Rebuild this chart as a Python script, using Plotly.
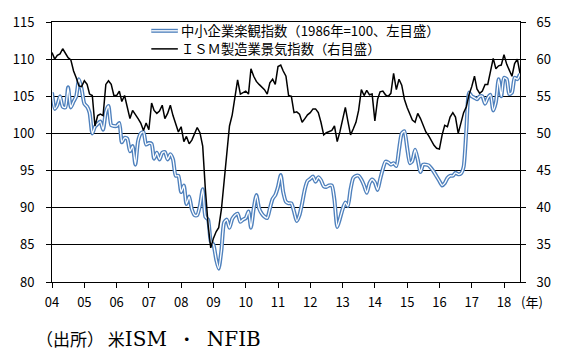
import pandas as pd
import plotly.graph_objects as go

# ---- data (monthly, Jan 2004 - Jul 2018) ----
months = pd.date_range("2004-01-01", periods=175, freq="MS")

nfib = [
    105.5, 103.3, 103.8, 105.0, 103.6, 103.5, 106.2, 103.5, 104.3, 105.0, 107.3, 106.0,  # 2004
    104.0, 103.6, 102.8, 100.0, 100.9, 101.3, 101.6, 100.5, 102.9, 103.7, 101.1, 101.0,  # 2005
    101.0, 101.4, 98.8, 99.4, 99.3, 97.6, 98.3, 95.8, 99.0, 100.0, 100.2, 98.5,          # 2006
    98.7, 98.6, 96.6, 97.4, 96.5, 97.4, 97.5, 96.5, 97.2, 96.5, 94.3, 94.3,              # 2007
    92.1, 93.0, 90.5, 91.5, 89.8, 89.0, 89.0, 90.3, 92.5, 88.8, 88.4, 85.5,              # 2008
    85.0, 83.0, 81.8, 84.3, 88.0, 88.4, 87.3, 88.5, 89.0, 89.2, 88.1, 88.4,              # 2009
    88.6, 89.5, 87.3, 89.9, 91.7, 89.9, 89.2, 88.8, 88.6, 89.9, 91.2, 91.7,              # 2010
    92.8, 94.4, 92.1, 90.8, 90.6, 90.6, 89.5, 88.2, 89.0, 90.6, 92.5, 93.6,              # 2011
    93.9, 94.2, 93.5, 94.1, 93.7, 92.9, 92.8, 93.0, 93.0, 91.0, 87.4, 88.5,              # 2012
    89.8, 90.7, 90.2, 92.5, 94.0, 94.3, 94.3, 93.8, 93.0, 92.0, 93.3, 93.8,              # 2013
    93.4, 92.4, 93.8, 95.2, 96.2, 96.1, 95.8, 96.0, 95.6, 97.8, 100.0, 100.3,            # 2014
    98.1, 96.0, 96.3, 97.8, 96.5, 94.8, 95.8, 95.8, 95.7, 95.3, 94.8, 94.2,              # 2015
    93.6, 93.0, 93.3, 94.0, 94.3, 94.3, 94.7, 94.5, 94.6, 95.5, 100.5, 105.5,            # 2016
    105.0, 104.8, 104.6, 105.0, 105.0, 104.0, 104.8, 105.2, 103.1, 104.2, 107.3, 105.0,  # 2017
    107.5, 107.3, 105.3, 105.5, 107.5, 107.3, 108.0,                                     # 2018
]

ism = [
    60.9, 60.0, 60.5, 60.7, 61.4, 60.8, 60.2, 59.9, 58.4, 57.5, 56.4, 56.3,  # 2004
    57.1, 56.6, 55.3, 55.1, 51.0, 52.4, 52.6, 52.4, 56.6, 57.1, 56.6, 55.1,  # 2005
    55.1, 55.7, 54.3, 55.1, 53.7, 52.0, 53.1, 52.6, 52.0, 51.4, 50.4, 51.4,  # 2006
    50.5, 54.1, 53.1, 52.7, 53.0, 53.8, 52.0, 52.7, 53.8, 52.4, 51.3, 50.2,  # 2007
    50.9, 48.9, 49.6, 48.6, 49.1, 50.0, 50.8, 50.1, 48.3, 42.5, 37.7, 34.6,  # 2008
    35.9, 36.8, 37.3, 39.8, 43.5, 48.0, 51.0, 52.5, 54.7, 57.2, 55.3, 55.5,  # 2009
    55.7, 55.3, 58.7, 57.7, 57.0, 56.6, 56.2, 55.9, 55.3, 56.8, 57.3, 56.6,  # 2010
    59.0, 59.2, 58.4, 57.7, 55.1, 55.0, 52.8, 52.9, 52.6, 51.5, 52.0, 52.5,  # 2011
    52.8, 53.3, 53.3, 52.8, 51.5, 49.8, 50.1, 50.2, 50.4, 51.0, 48.9, 50.2,  # 2012
    51.7, 53.5, 51.7, 49.8, 50.6, 51.5, 53.1, 55.9, 55.1, 55.8, 55.2, 55.3,  # 2013
    51.7, 54.6, 55.6, 55.7, 55.2, 55.0, 55.4, 58.1, 55.9, 57.3, 56.5, 54.6,  # 2014
    53.5, 52.6, 51.8, 51.5, 52.7, 52.0, 51.1, 50.2, 49.7, 49.1, 48.4, 48.0,  # 2015
    47.9, 49.8, 51.1, 50.9, 52.2, 52.8, 52.2, 50.0, 51.5, 52.8, 53.6, 55.2,  # 2016
    56.3, 57.7, 56.0, 55.4, 55.7, 56.6, 56.6, 58.4, 60.1, 58.7, 59.1, 59.2,  # 2017
    60.6, 59.3, 58.6, 57.7, 59.4, 60.0, 58.1,                                # 2018
]

year_ticks = pd.date_range("2004-01-01", "2018-01-01", freq="YS")
year_labels = [f"{y % 100:02d}" for y in range(2004, 2019)]

name_nfib = "中小企業楽観指数（1986年=100、左目盛）"
name_ism = "ＩＳＭ製造業景気指数（右目盛）"

BLUE = "#4f81bd"
SANS = "Noto Sans CJK JP"

fig = go.Figure()
# double (compound) blue line: blue outline + white core
fig.add_trace(go.Scatter(x=months, y=nfib, mode="lines", name=name_nfib,
                         line=dict(color=BLUE, width=4.0, shape="spline", smoothing=0.6),
                         showlegend=False, yaxis="y"))
fig.add_trace(go.Scatter(x=months, y=nfib, mode="lines",
                         line=dict(color="white", width=1.3, shape="spline", smoothing=0.6),
                         showlegend=False, hoverinfo="skip", yaxis="y"))
fig.add_trace(go.Scatter(x=months, y=ism, mode="lines", name=name_ism,
                         line=dict(color="black", width=1.5),
                         showlegend=False, yaxis="y2"))

# ---- legend (custom, white box) ----
def px_x(px):
    return (px - 52) / 476.0

def px_y(py):
    return (282 - py) / 266.0

shapes = [
    dict(type="rect", xref="paper", yref="paper", x0=px_x(116), x1=px_x(477),
         y0=px_y(57), y1=px_y(17.5), fillcolor="white", line=dict(width=0), layer="between"),
    dict(type="line", xref="paper", yref="paper", x0=px_x(153), x1=px_x(180),
         y0=px_y(25), y1=px_y(25), line=dict(color=BLUE, width=4.0)),
    dict(type="line", xref="paper", yref="paper", x0=px_x(153), x1=px_x(180),
         y0=px_y(25), y1=px_y(25), line=dict(color="white", width=1.3)),
    dict(type="line", xref="paper", yref="paper", x0=px_x(153), x1=px_x(180),
         y0=px_y(43.5), y1=px_y(43.5), line=dict(color="black", width=1.5)),
]

LAT = "font-family:DejaVu Serif;font-size:20px"
source_text = ("（出所）&nbsp;米<span style='" + LAT + "'>ISM</span>"
               "&nbsp;&nbsp;&nbsp;・&nbsp;&nbsp;&nbsp;<span style='" + LAT + "'>NFIB</span>")

annotations = [
    dict(text=name_nfib, xref="paper", yref="paper", x=px_x(181), y=px_y(25),
         xanchor="left", yanchor="middle", showarrow=False,
         font=dict(family=SANS, size=13.3, color="black")),
    dict(text=name_ism, xref="paper", yref="paper", x=px_x(181), y=px_y(43.5),
         xanchor="left", yanchor="middle", showarrow=False,
         font=dict(family=SANS, size=13.3, color="black")),
    dict(text="(年)", xref="paper", yref="paper", x=px_x(527), y=px_y(302),
         xanchor="left", yanchor="middle", showarrow=False,
         font=dict(family=SANS, size=13, color="black")),
    dict(text=source_text, xref="paper", yref="paper", x=px_x(34), y=px_y(340),
         xanchor="left", yanchor="middle", showarrow=False,
         font=dict(family=SANS, size=17, color="black")),
]

fig.update_layout(
    width=563, height=351,
    margin=dict(l=52, r=35, t=16, b=69, pad=0),
    paper_bgcolor="white", plot_bgcolor="white",
    font=dict(family=SANS, size=13, color="black"),
    shapes=shapes, annotations=annotations,
    xaxis=dict(type="date", range=[months[0], months[-1]],
               tickvals=list(year_ticks), ticktext=year_labels,
               ticks="outside", ticklen=5, tickcolor="black", tickwidth=1,
               showline=True, linecolor="black", linewidth=1, mirror=True,
               showgrid=False, zeroline=False, ticklabelstandoff=3,
               tickfont=dict(family=SANS, size=13)),
    yaxis=dict(range=[80, 115], dtick=5, tick0=80,
               ticks="outside", ticklen=5, tickcolor="black",
               showline=True, linecolor="black", linewidth=1,
               showgrid=True, gridcolor="black", gridwidth=1, zeroline=False,
               ticklabelstandoff=9, tickfont=dict(family=SANS, size=13)),
    yaxis2=dict(range=[30, 65], dtick=5, tick0=30, overlaying="y", side="right",
                ticks="outside", ticklen=5, tickcolor="black",
                showline=True, linecolor="black", linewidth=1,
                showgrid=False, zeroline=False,
                ticklabelstandoff=8, tickfont=dict(family=SANS, size=13)),
    showlegend=False,
)

fig.write_html("out.html")
